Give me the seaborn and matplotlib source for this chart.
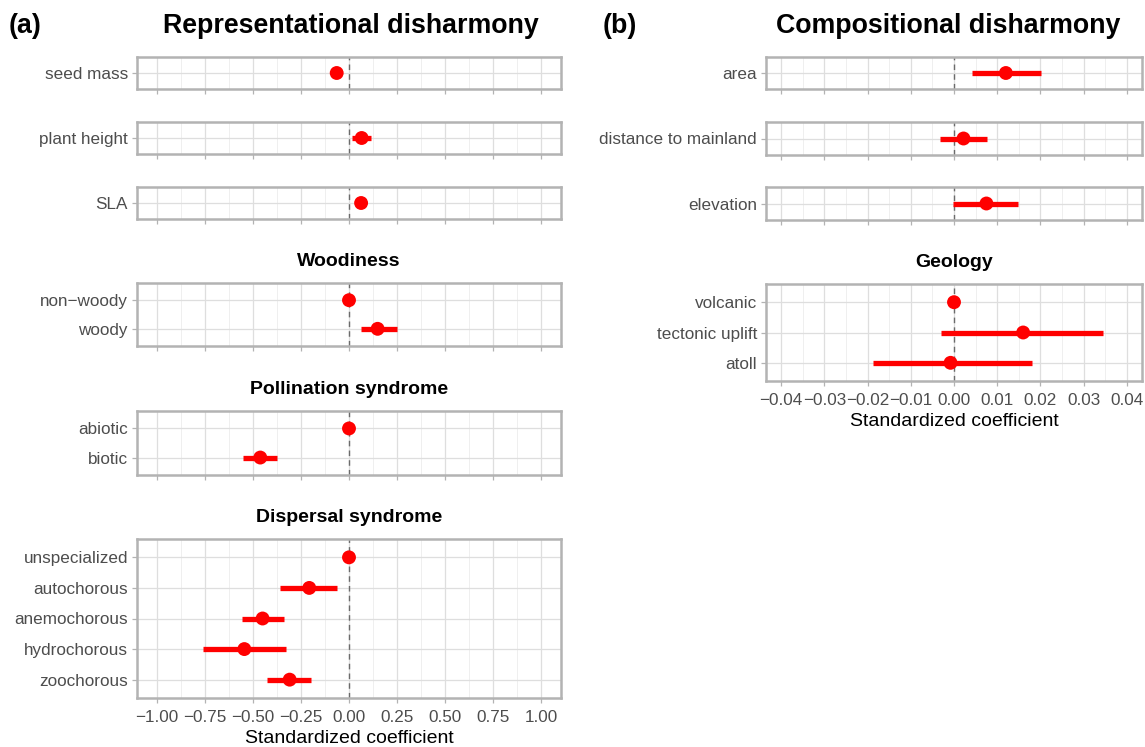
import numpy as np
import pandas as pd
import seaborn as sns
import matplotlib
matplotlib.use("Agg")
import matplotlib.pyplot as plt
from matplotlib.ticker import MultipleLocator, FuncFormatter

sns.set_theme(style="white")
plt.rcParams['font.family'] = ['Liberation Sans', 'DejaVu Sans']
plt.rcParams['text.color'] = 'black'

# (a) Representational disharmony
rep_group = ["seed mass", "plant height", "SLA", "Woodiness", "Woodiness",
             "Pollination syndrome", "Pollination syndrome",
             "Dispersal syndrome", "Dispersal syndrome", "Dispersal syndrome",
             "Dispersal syndrome", "Dispersal syndrome"]
rep_term = ["seed mass", "plant height", "SLA", "non\u2212woody", "woody",
            "abiotic", "biotic", "unspecialized", "autochorous",
            "anemochorous", "hydrochorous", "zoochorous"]
rep_est = [-0.064, 0.066, 0.063, 0.0, 0.149, 0.0, -0.462,
           0.0, -0.207, -0.450, -0.545, -0.309]
rep_lo = [-0.092, 0.014, 0.045, 0.0, 0.061, 0.0, -0.550,
          0.0, -0.358, -0.556, -0.760, -0.425]
rep_hi = [-0.040, 0.113, 0.080, 0.0, 0.250, 0.0, -0.377,
          0.0, -0.061, -0.339, -0.326, -0.198]

# (b) Compositional disharmony
comp_group = ["area", "distance to mainland", "elevation",
              "Geology", "Geology", "Geology"]
comp_term = ["area", "distance to mainland", "elevation",
             "volcanic", "tectonic uplift", "atoll"]
comp_est = [0.0120, 0.0022, 0.0075, 0.0, 0.0160, -0.0008]
comp_lo = [0.0041, -0.0033, -0.0002, 0.0, -0.0029, -0.0188]
comp_hi = [0.0201, 0.0076, 0.0148, 0.0, 0.0345, 0.0181]

W, H = 1145, 747
fig = plt.figure(figsize=(W / 100, H / 100), dpi=100)

GRID_MAJ = "#DEDEDE"
GRID_MIN = "#EDEDED"
FRAME = "#B3B3B3"
TXT = "#4D4D4D"


def fmt_minus(v, pos):
    s = f"{v:.2f}"
    if s in ("-0.00", "0.00"):
        return "0.00"
    return s.replace("-", "\u2212")


def draw_panel(group, term, est, lo, hi, boxes, x0, x1, xlim, major, minor):
    df = pd.DataFrame({"group": group, "term": term, "est": est, "lo": lo, "hi": hi})
    groups = list(pd.unique(df["group"]))
    for i, g in enumerate(groups):
        sub = df[df["group"] == g].reset_index(drop=True)
        sub["pos"] = np.arange(len(sub))
        top, bot = boxes[i]
        ax = fig.add_axes([x0 / W, 1 - bot / H, (x1 - x0) / W, (bot - top) / H])
        ax.axvline(0, color="#6B6B6B", ls=(0, (4, 3)), lw=1.0, zorder=2)
        ax.hlines(sub["pos"], sub["lo"], sub["hi"], color="red", lw=3.8,
                  zorder=3, capstyle="butt")
        sns.scatterplot(data=sub, x="est", y="pos", color="red", s=100,
                        edgecolor="none", linewidth=0, ax=ax, zorder=4)
        ax.set_xlim(xlim)
        ax.set_ylim(len(sub) - 1 + 0.6, -0.6)
        ax.set_yticks(sub["pos"])
        ax.set_yticklabels(sub["term"])
        ax.xaxis.set_major_locator(MultipleLocator(major))
        ax.xaxis.set_minor_locator(MultipleLocator(minor))
        ax.xaxis.set_major_formatter(FuncFormatter(fmt_minus))
        ax.grid(True, which="major", color=GRID_MAJ, lw=0.9, zorder=0)
        ax.grid(True, which="minor", axis="x", color=GRID_MIN, lw=0.6, zorder=0)
        ax.set_axisbelow(True)
        for sp in ax.spines.values():
            sp.set_color(FRAME)
            sp.set_linewidth(1.8)
        ax.tick_params(axis="both", which="major", length=3.5, width=0.9,
                       color=FRAME, labelcolor=TXT, labelsize=12.3, pad=3,
                       bottom=True, left=True)
        ax.tick_params(axis="x", which="major", pad=5)
        ax.tick_params(axis="x", which="minor", length=0)
        ax.set_xlabel("")
        ax.set_ylabel("")
        if i < len(groups) - 1:
            ax.tick_params(axis="x", labelbottom=False)
        else:
            ax.set_xlabel("Standardized coefficient", fontsize=14, color="black",
                          labelpad=3.5)
        if len(sub) > 1:
            ax.set_title(g, fontsize=14, fontweight="bold", pad=12, color="black")


draw_panel(rep_group, rep_term, rep_est, rep_lo, rep_hi,
           [(57, 89), (122, 154), (187, 219), (283, 346), (411, 475), (539, 698)],
           137, 561, (-1.104, 1.104), 0.25, 0.125)
draw_panel(comp_group, comp_term, comp_est, comp_lo, comp_hi,
           [(57, 89), (122, 155), (187, 220), (284, 381)],
           766, 1142, (-0.0435, 0.0435), 0.01, 0.005)

fig.text(351 / W, 1 - 33 / H, "Representational disharmony", ha="center",
         va="baseline", fontsize=19.3, fontweight="bold", color="black")
fig.text(948 / W, 1 - 33 / H, "Compositional disharmony", ha="center",
         va="baseline", fontsize=19.3, fontweight="bold", color="black")
fig.text(9 / W, 1 - 33 / H, "(a)", ha="left", va="baseline", fontsize=19.3,
         fontweight="bold", color="black")
fig.text(603 / W, 1 - 33 / H, "(b)", ha="left", va="baseline", fontsize=19.3,
         fontweight="bold", color="black")

fig.savefig("out.png", dpi=100)
